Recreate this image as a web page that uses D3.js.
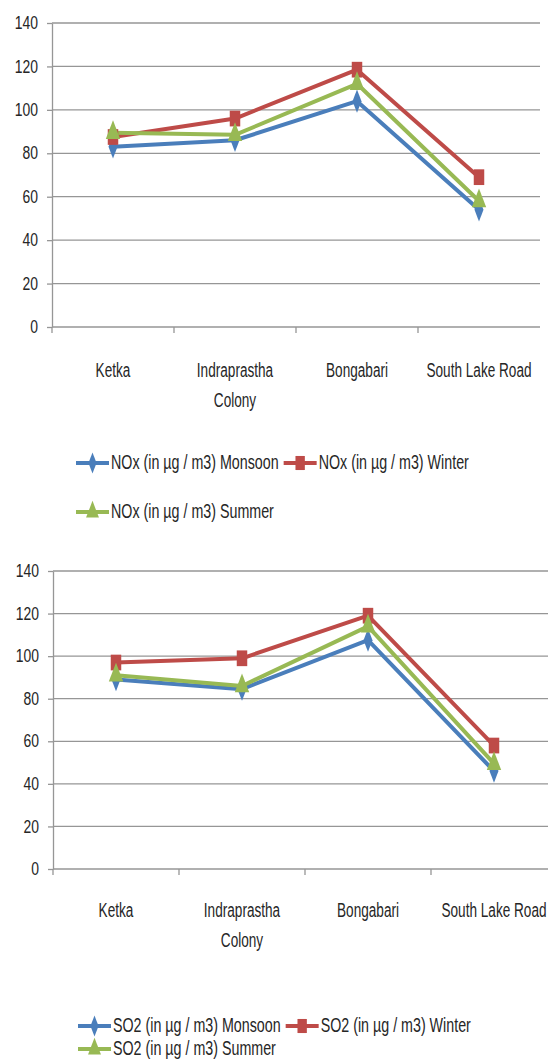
<!DOCTYPE html>
<html lang="en">
<head>
  <meta charset="UTF-8">
  <title>NOx and SO2 by location</title>
  <script src="https://d3js.org/d3.v7.min.js"></script>
  <style>
    body { margin: 0; padding: 0; background: #fff; }
    svg text { font-family: 'Liberation Sans', Arial, sans-serif; fill: #262626; }
  </style>
</head>
<body>
  <svg id="chart"></svg>
  <script>
    const categories = [["Ketka"], ["Indraprastha", "Colony"], ["Bongabari"], ["South Lake Road"]];
    const yTicks = [0, 20, 40, 60, 80, 100, 120, 140];

    const noxMonsoon = [83, 86, 104, 54];
    const noxWinter = [87.5, 96, 118.5, 69];
    const noxSummer = [89.5, 88.5, 112, 58];

    const so2Monsoon = [89, 84.5, 107.5, 46];
    const so2Winter = [97, 99, 119, 58];
    const so2Summer = [91, 86, 114, 49.5];

    const noxNames = ["NOx (in µg / m3) Monsoon", "NOx (in µg / m3) Winter", "NOx (in µg / m3) Summer"];
    const so2Names = ["SO2 (in µg / m3) Monsoon", "SO2 (in µg / m3) Winter", "SO2 (in µg / m3) Summer"];

    const colors = ["#4a7ebb", "#be4b48", "#98b954"];
    const shapes = [d3.symbolDiamond, d3.symbolSquare, d3.symbolTriangle];
    const sizes = [70, 110, 90];

    // the original text is narrow and tall
    const SX = 0.8, SY = 1.15;

    const width = 548, height = 1059;
    const svg = d3.select("#chart").attr("width", width).attr("height", height);

    const charts = [
      { series: [noxMonsoon, noxWinter, noxSummer], names: noxNames,
        top: 23, bottom: 327, left: 52, band: 122, labelY: 377, legendRows: [463, 512], legendX: 76 },
      { series: [so2Monsoon, so2Winter, so2Summer], names: so2Names,
        top: 571, bottom: 869, left: 53, band: 126, labelY: 917, legendRows: [1026, 1049], legendX: 78 }
    ];

    function marker(g, i, x, y, k = 1) {
      g.append("path")
        .attr("d", d3.symbol().type(shapes[i]).size(sizes[i] * k)())
        .attr("transform", `translate(${x},${y}) scale(1,1.5)`)
        .attr("fill", colors[i]);
    }

    function squeezedText(g, x, y, lines, anchor, sx = SX) {
      const t = g.append("text")
        .attr("transform", `translate(${x},${y}) scale(${sx},${SY})`)
        .attr("text-anchor", anchor)
        .attr("font-size", 17);
      t.selectAll("tspan").data(lines).join("tspan")
        .attr("x", 0)
        .attr("y", (d, i) => i * 30 / SY)
        .text(d => d);
      return t;
    }

    charts.forEach(c => {
      const g = svg.append("g");
      const right = c.left + c.band * categories.length;

      const x = d3.scaleBand().domain(d3.range(categories.length)).range([c.left, right]);
      const y = d3.scaleLinear().domain([0, 140]).range([c.bottom, c.top]);

      // grid
      g.append("g").selectAll("line").data(yTicks).join("line")
        .attr("x1", c.left).attr("x2", right)
        .attr("y1", d => y(d)).attr("y2", d => y(d))
        .attr("stroke", "#969696").attr("stroke-width", 1.3);

      // y axis
      const yAxis = g.append("g").attr("transform", `translate(${c.left},0)`)
        .call(d3.axisLeft(y).tickValues(yTicks).tickSize(5).tickSizeOuter(0).tickPadding(9));
      yAxis.selectAll("path, line").attr("stroke", "#969696").attr("stroke-width", 1.3);
      yAxis.selectAll("text")
        .attr("font-size", 17).attr("fill", "#262626").attr("font-family", null)
        .attr("x", -14 / 0.82)
        .attr("transform", "scale(0.82,1.05)");

      // x ticks at band edges
      g.append("g").selectAll("line").data(d3.range(categories.length)).join("line")
        .attr("x1", d => x(d)).attr("x2", d => x(d))
        .attr("y1", c.bottom).attr("y2", c.bottom + 6)
        .attr("stroke", "#969696").attr("stroke-width", 1.3);

      // x labels
      const labels = g.append("g");
      categories.forEach((lines, i) => {
        squeezedText(labels, x(i) + x.bandwidth() / 2, c.labelY, lines, "middle");
      });

      // lines
      const line = d3.line().x((d, i) => x(i) + x.bandwidth() / 2).y(d => y(d));
      c.series.forEach((s, i) => {
        g.append("path").datum(s)
          .attr("d", line)
          .attr("fill", "none")
          .attr("stroke", colors[i])
          .attr("stroke-width", 4)
          .attr("stroke-linejoin", "round");
      });
      c.series.forEach((s, i) => {
        s.forEach((v, j) => marker(g, i, x(j) + x.bandwidth() / 2, y(v)));
      });

      // legend
      const leg = g.append("g");
      let lx = c.legendX;
      c.names.forEach((name, i) => {
        const row = i < 2 ? 0 : 1;
        const ly = c.legendRows[row];
        if (i === 2) lx = c.legendX;
        leg.append("line")
          .attr("x1", lx).attr("x2", lx + 33)
          .attr("y1", ly).attr("y2", ly)
          .attr("stroke", colors[i]).attr("stroke-width", 4);
        marker(leg, i, lx + 16.5, ly, 0.8);
        const t = squeezedText(leg, lx + 35, ly + 6, [name], "start", 0.84);
        lx = lx + 35 + t.node().getComputedTextLength() * 0.84 + 5;
      });
    });
  </script>
</body>
</html>
